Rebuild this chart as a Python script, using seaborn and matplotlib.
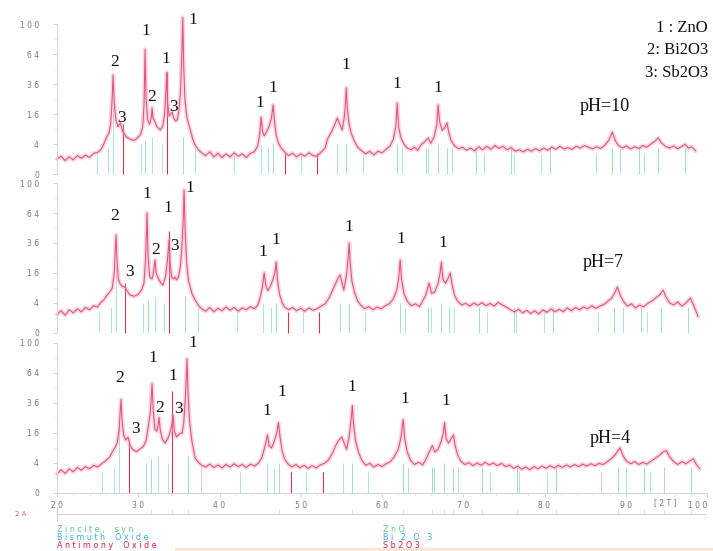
import numpy as np
import matplotlib
matplotlib.use('Agg')
import matplotlib.pyplot as plt
from matplotlib.ticker import FixedLocator, NullLocator
from matplotlib.patches import Rectangle
import seaborn as sns

# --- XRD data (2-theta, counts) ---
tth_ph10 = [20.0, 20.5, 21.0, 21.5, 22.0, 22.5, 23.0, 23.5, 24.0, 24.5, 25.0,
            25.4, 25.8, 26.1, 26.4, 26.6, 26.8, 26.9, 27.05, 27.25, 27.5, 27.8, 28.1, 28.5, 29.0, 29.5, 29.9,
            30.3, 30.55, 30.72, 30.84, 30.96, 31.15, 31.4, 31.6, 31.7, 31.82, 32.0, 32.3, 32.7, 33.0,
            33.25, 33.4, 33.51, 33.62, 33.8, 34.0, 34.16, 34.35, 34.6, 34.8, 35.0, 35.2, 35.35, 35.48, 35.6, 35.75, 36.0, 36.4, 36.7, 37.0,
            37.4, 37.8, 38.3, 38.8, 39.3, 39.8, 40.3, 40.8, 41.3, 41.8, 42.3, 42.8, 43.3, 43.8, 44.3,
            44.7, 44.95, 45.12, 45.3, 45.5, 45.8, 46.1, 46.4, 46.6, 46.8, 47.0, 47.3, 47.6, 48.0,
            48.5, 49.0, 49.5, 50.0, 50.5, 51.0, 51.5, 52.0, 52.5, 53.0, 53.3,
            53.8, 54.2, 54.5, 54.8, 55.1, 55.35, 55.5, 55.6, 55.72, 55.9, 56.2, 56.6, 57.0, 57.5,
            58.0, 58.5, 59.0, 59.5, 60.0, 60.5, 61.0, 61.4, 61.7,
            61.87, 62.05, 62.3, 62.7, 63.1, 63.6, 64.0, 64.4, 64.8, 65.2, 65.7, 66.0, 66.4, 66.75, 66.9, 67.1, 67.4, 67.7, 68.0, 68.2, 68.5, 68.9, 69.4,
            69.9, 70.4, 70.9, 71.4, 71.9, 72.4, 72.9, 73.4, 73.9, 74.4, 74.9, 75.4, 75.9, 76.4, 76.9, 77.4, 77.9, 78.4,
            78.9, 79.4, 79.9, 80.4, 80.9, 81.4, 81.9, 82.4, 82.9, 83.4, 83.9, 84.4, 84.9, 85.4, 85.9, 86.4, 86.9, 87.4,
            87.9, 88.35, 88.7, 89.1, 89.6, 90.1, 90.6, 91.1, 91.6, 92.1, 92.6, 93.1, 93.6, 94.0, 94.4, 94.9, 95.4, 95.9,
            96.4, 96.9, 97.3, 97.7, 98.1, 98.6]
int_ph10 = [1.0, 1.4, 0.8, 1.3, 0.9, 1.5, 1.1, 1.6, 1.2, 1.9, 2.1,
            2.6, 4.2, 6.0, 7.5, 11.0, 26.0, 43.6, 22.0, 13.0, 10.0, 11.6, 8.0, 6.2, 5.4, 5.0, 5.8,
            7.0, 10.0, 22.0, 69.0, 26.0, 13.0, 11.0, 14.0, 19.4, 14.0, 12.5, 10.0, 8.6, 10.0,
            16.0, 30.0, 46.0, 22.0, 15.0, 16.0, 17.1, 14.0, 12.5, 13.0, 18.0, 30.0, 60.0, 109.0, 50.0, 24.0, 14.0, 8.6, 5.5, 3.7,
            2.6, 2.0, 1.5, 2.2, 1.3, 1.9, 1.2, 1.8, 1.3, 2.0, 1.4, 1.8, 1.2, 1.9, 2.2,
            3.5, 7.0, 14.4, 8.0, 6.5, 8.0, 10.0, 14.0, 21.2, 11.0, 6.5, 4.0, 3.0, 2.2,
            1.5, 1.9, 1.3, 1.8, 1.4, 2.0, 1.5, 1.4, 2.1, 3.0, 5.5,
            8.0, 11.0, 13.9, 11.0, 8.6, 14.0, 22.0, 32.9, 20.0, 12.0, 7.5, 4.8, 3.2, 2.4,
            1.8, 2.3, 1.6, 2.3, 2.0, 2.7, 3.5, 5.5, 10.0,
            22.4, 10.0, 6.0, 4.0, 3.0, 2.6, 3.2, 2.5, 3.8, 4.5, 5.8, 4.2, 6.0, 11.0, 21.2, 12.0, 8.5, 9.5, 11.6, 8.0, 5.0, 3.6, 2.8,
            3.2, 2.5, 3.0, 2.4, 3.3, 2.6, 3.4, 2.7, 3.6, 2.9, 3.4, 2.6, 3.1, 2.3, 2.6, 2.2, 2.7, 2.3,
            2.9, 2.4, 3.0, 2.5, 3.2, 2.7, 3.4, 2.8, 3.1, 2.7, 3.4, 3.0, 3.6, 3.2, 2.8, 3.3, 2.9, 3.6,
            5.0, 7.8, 5.0, 3.6, 3.0, 3.5, 2.8, 3.3, 2.9, 3.6, 3.2, 4.0, 4.8, 5.8, 4.3, 3.4, 3.0, 3.5,
            2.8, 3.4, 3.9, 3.0, 3.3, 2.4]

tth_ph7 = [20.0, 20.5, 21.0, 21.5, 22.0, 22.5, 23.0, 23.5, 24.0, 24.5, 25.0,
           25.4, 25.8, 26.1, 26.5, 26.8, 27.05, 27.17, 27.27, 27.38, 27.55, 27.8, 28.1, 28.37, 28.6, 29.0, 29.5, 30.0, 30.4,
           30.7, 30.9, 31.08, 31.2, 31.4, 31.7, 31.9, 32.07, 32.2, 32.5, 32.8, 33.05,
           33.35, 33.6, 33.8, 33.92, 34.1, 34.3, 34.5, 34.7, 34.95, 35.2, 35.4, 35.55, 35.64, 35.78, 35.95, 36.2, 36.6, 37.0,
           37.4, 37.8, 38.3, 38.8, 39.3, 39.8, 40.3, 40.8, 41.3, 41.8, 42.3, 42.8, 43.3, 43.8, 44.3, 44.7,
           45.0, 45.25, 45.5, 45.7, 45.95, 46.3, 46.6, 46.85, 46.97, 47.15, 47.4, 47.7, 48.0,
           48.5, 49.0, 49.5, 50.0, 50.5, 51.0, 51.5, 52.0, 52.5, 53.0, 53.5,
           53.9, 54.3, 54.6, 54.85, 55.1, 55.3, 55.6, 55.82, 55.96, 56.08, 56.3, 56.6, 57.0, 57.4,
           57.9, 58.4, 58.9, 59.4, 59.9, 60.4, 60.9, 61.4, 61.8,
           62.05, 62.24, 62.4, 62.7, 63.1, 63.6, 64.1, 64.6, 65.0, 65.4, 65.8, 66.1, 66.5, 66.9, 67.15, 67.3, 67.5, 67.8, 68.1, 68.4, 68.6, 68.9, 69.3, 69.8,
           70.3, 70.8, 71.3, 71.8, 72.3, 72.8, 73.3, 73.8, 74.3, 74.8, 75.3, 75.8, 76.3, 76.8, 77.3, 77.8, 78.3, 78.8,
           79.3, 79.8, 80.3, 80.8, 81.3, 81.8, 82.3, 82.8, 83.3, 83.8, 84.3, 84.8, 85.3, 85.8, 86.3, 86.8, 87.3,
           87.8, 88.3, 88.7, 88.97, 89.3, 89.7, 90.2, 90.7, 91.2, 91.7, 92.2, 92.7, 93.2, 93.7, 94.2, 94.6, 95.0, 95.4,
           95.9, 96.4, 96.9, 97.4, 97.96, 98.4, 98.9]
int_ph7 = [1.5, 2.2, 1.4, 2.4, 1.8, 2.6, 2.0, 2.9, 2.4, 3.3, 3.0,
           4.2, 5.0, 6.2, 7.5, 9.0, 16.0, 30.0, 42.7, 24.0, 13.0, 10.5, 9.5, 9.4, 8.0, 6.4, 6.0, 6.6, 8.2,
           11.0, 24.0, 64.0, 27.0, 14.0, 13.0, 17.0, 23.7, 16.0, 13.0, 11.0, 10.2,
           14.0, 24.0, 38.4, 22.0, 14.0, 13.0, 13.9, 12.5, 14.0, 20.0, 36.0, 60.0, 91.0, 45.0, 22.0, 12.0, 7.0, 4.8,
           3.4, 2.6, 2.1, 2.9, 2.0, 2.7, 2.2, 3.0, 2.3, 2.9, 2.1, 2.8, 2.4, 3.1, 2.6, 3.4,
           5.5, 9.0, 16.0, 10.0, 8.0, 10.0, 13.0, 17.0, 22.4, 12.0, 6.5, 4.2, 3.0,
           2.4, 2.9, 2.2, 2.7, 2.1, 2.8, 2.3, 2.6, 3.2, 3.8, 5.5,
           8.0, 11.0, 13.5, 15.0, 11.0, 8.2, 14.0, 24.0, 36.0, 22.0, 12.0, 7.5, 4.6, 3.4,
           2.6, 3.1, 2.4, 3.0, 2.6, 3.3, 3.8, 5.2, 8.0,
           13.0, 23.7, 13.0, 7.0, 4.5, 3.3, 3.8, 3.1, 4.5, 6.5, 11.1, 7.0, 7.5, 11.0, 16.0, 22.4, 13.0, 11.0, 13.0, 16.0, 11.0, 6.5, 4.5, 3.5,
           3.9, 3.2, 4.0, 3.4, 4.1, 3.3, 3.9, 3.2, 4.2, 3.5, 3.0, 2.4, 2.0, 2.5, 1.8, 2.3, 1.7, 2.2,
           1.6, 2.4, 1.9, 2.6, 2.0, 2.5, 2.0, 2.8, 2.2, 2.9, 2.4, 3.0, 2.6, 3.3, 2.7, 3.2, 3.6,
           4.5, 5.5, 7.5, 9.4, 6.5, 4.5, 3.2, 3.8, 2.8, 3.5, 3.0, 3.9, 4.5, 5.5, 6.5, 8.2, 5.5, 4.0,
           3.5, 4.3, 3.2, 4.0, 5.4, 3.2, 1.2]

tth_ph4 = [20.0, 20.5, 21.0, 21.5, 22.0, 22.5, 23.0, 23.5, 24.0, 24.5, 25.0,
           25.5, 26.0, 26.5, 26.8, 27.1, 27.4, 27.65, 27.78, 27.88, 28.0, 28.2, 28.45, 28.74, 29.0, 29.4, 29.8, 30.2, 30.6,
           30.95, 31.25, 31.5, 31.7, 31.85, 32.05, 32.3, 32.45, 32.56, 32.7, 32.95, 33.3,
           33.6, 33.9, 34.15, 34.29, 34.45, 34.7, 34.95, 35.15, 35.4, 35.6, 35.8, 35.92, 36.0, 36.12, 36.3, 36.6, 37.0,
           37.4, 37.8, 38.3, 38.8, 39.3, 39.8, 40.3, 40.8, 41.3, 41.8, 42.3, 42.8, 43.3, 43.8, 44.3, 44.8,
           45.2, 45.5, 45.75, 45.9, 46.1, 46.4, 46.75, 47.05, 47.25, 47.45, 47.7, 48.0, 48.4,
           48.9, 49.4, 49.9, 50.4, 50.9, 51.4, 51.9, 52.4, 52.9, 53.4,
           53.9, 54.3, 54.7, 55.05, 55.35, 55.65, 55.95, 56.2, 56.35, 56.5, 56.75, 57.1, 57.5,
           58.0, 58.5, 59.0, 59.5, 60.0, 60.5, 61.0, 61.5, 62.0, 62.35,
           62.6, 62.8, 63.1, 63.5, 64.0, 64.5, 65.0, 65.4, 65.8, 66.2, 66.5, 66.9, 67.3, 67.55, 67.7, 67.9, 68.2, 68.5, 68.8, 69.0, 69.3, 69.7,
           70.2, 70.7, 71.2, 71.7, 72.2, 72.7, 73.2, 73.7, 74.2, 74.7, 75.2, 75.7, 76.2, 76.7, 77.2, 77.7, 78.2, 78.7,
           79.2, 79.7, 80.2, 80.7, 81.2, 81.7, 82.2, 82.7, 83.2, 83.7, 84.2, 84.7, 85.2, 85.7, 86.2, 86.7, 87.2, 87.7,
           88.2, 88.7, 89.0, 89.3, 89.7, 90.1, 90.6, 91.1, 91.6, 92.1, 92.6, 93.1, 93.6, 94.1, 94.6, 95.0, 95.4, 95.9,
           96.4, 96.9, 97.4, 97.9, 98.3, 98.7, 99.1]
int_ph4 = [1.6, 2.4, 1.7, 2.6, 2.0, 2.9, 2.3, 3.1, 2.6, 3.4, 3.0,
           3.8, 4.6, 5.8, 7.5, 8.9, 11.0, 18.0, 30.0, 38.8, 24.0, 15.0, 12.5, 13.8, 10.0, 8.2, 7.6, 8.6, 9.5,
           12.0, 20.0, 30.0, 53.0, 30.0, 18.0, 17.0, 21.0, 25.3, 18.0, 13.0, 11.0,
           13.0, 16.0, 21.0, 26.7, 17.0, 14.0, 15.0, 15.8, 16.0, 22.0, 40.0, 62.0, 80.0, 45.0, 24.0, 12.0, 5.4,
           4.2, 3.4, 3.0, 3.7, 2.9, 3.5, 2.8, 3.6, 3.0, 3.8, 3.1, 3.6, 2.9, 3.7, 3.2, 4.0,
           5.5, 8.5, 12.0, 15.0, 10.0, 9.0, 12.0, 16.0, 22.0, 14.0, 8.0, 5.2, 3.8,
           3.0, 3.6, 2.8, 3.4, 2.7, 3.3, 2.8, 3.5, 3.9, 4.8,
           7.0, 10.0, 12.5, 14.0, 11.0, 8.5, 14.0, 24.0, 34.0, 21.0, 12.0, 7.5, 4.8,
           3.4, 3.9, 3.0, 3.6, 3.1, 3.8, 4.3, 5.8, 8.5, 14.0,
           24.0, 13.0, 7.5, 4.8, 3.6, 4.2, 3.5, 5.0, 7.5, 10.0, 7.5, 8.5, 12.0, 16.0, 22.0, 13.0, 11.0, 13.0, 15.0, 10.0, 6.5, 4.5,
           3.6, 4.1, 3.3, 4.0, 3.4, 4.2, 3.5, 4.0, 3.3, 3.9, 3.1, 3.5, 2.7, 3.2, 2.5, 3.0, 2.4, 3.1,
           2.6, 3.2, 2.7, 3.3, 2.8, 3.4, 2.9, 3.5, 3.0, 3.6, 3.1, 3.7, 3.2, 3.8, 3.3, 3.9, 3.6, 4.3,
           5.2, 6.5, 7.8, 9.0, 6.0, 4.5, 3.8, 4.4, 3.6, 4.2, 3.7, 4.5, 5.3, 6.2, 7.5, 8.0, 5.8, 4.4,
           3.6, 4.4, 3.8, 4.6, 5.2, 3.6, 2.6]

# peak labels (phase number, 2-theta, level)
peak_names = ['2', '3', '1', '2', '1', '3', '1', '1', '1', '1', '1', '1']
lab_t_ph10 = [27.1, 27.9, 30.96, 31.7, 33.4, 34.3, 36.75, 45.0, 46.6, 55.6, 61.87, 66.92]
lab_i_ph10 = [55.8, 13.9, 90.9, 26.3, 58.8, 20.0, 105.0, 22.4, 32.9, 52.8, 36.0, 32.9]
lab_t_ph7 = [27.14, 28.87, 31.08, 32.2, 33.67, 34.5, 36.4, 45.37, 46.97, 55.96, 62.36, 67.5]
lab_i_ph7 = [60.8, 16.5, 85.9, 30.6, 69.4, 33.6, 93.4, 29.2, 38.4, 49.9, 39.3, 36.0]
lab_t_ph4 = [27.76, 29.6, 31.8, 32.68, 34.29, 35.0, 36.75, 45.86, 47.7, 56.3, 62.86, 67.9]
lab_i_ph4 = [59.0, 18.0, 81.0, 32.4, 61.0, 31.7, 100.0, 30.2, 45.6, 50.2, 39.6, 37.9]

# reference stick patterns
zno_pos = [30.84, 33.5, 35.48, 46.6, 55.6, 61.87, 65.4, 66.9, 68.0, 71.6, 75.9, 80.7, 88.3, 91.6, 94.0, 97.3]
zno_h = [5, 5, 6, 4, 4, 4, 3, 4, 3, 3, 3, 3, 3, 3, 3, 3]
bi_pos = [24.9, 26.3, 26.9, 30.3, 31.7, 32.9, 37.0, 41.8, 45.1, 46.0, 50.0, 54.5, 57.6, 62.5, 65.7,
          68.6, 72.6, 76.2, 79.6, 86.3, 89.3, 92.3]
bi_h = [2, 3, 20, 4, 6, 4, 3, 2, 4, 3, 2, 4, 2, 3, 3, 3, 2, 2, 2, 2, 3, 2]
sb_pos = [28.1, 33.5, 48.1, 52.0]
sb_h = [11, 46, 2, 2]
stick_shift = [0.0, 0.3, 0.7]

ph_names = ['pH=10', 'pH=7', 'pH=4']
ytick_vals = [0, 4, 16, 36, 64, 100]
ytick_txt = ['0', '4', '1 6', '3 6', '6 4', '1 0 0']
xtick_vals = [20, 30, 40, 50, 60, 70, 80, 90, 100]
xtick_txt = ['2 0', '3 0', '4 0', '5 0', '6 0', '7 0', '8 0', '9 0', '1 0 0']

sns.set_style('white')
plt.rcParams['font.family'] = ['DejaVu Sans']

line_c = '#e4557c'
halo_c = '#f5a9bd'
zno_c = '#74d69a'
bi_c = '#86d4ea'
sb_c = '#d8334f'
serif = ['Liberation Serif', 'DejaVu Serif']


def fwd(v):
    return np.sqrt(np.clip(v, 0, None))


def inv(v):
    return np.square(v)


fig = plt.figure(figsize=(7.13, 5.51), dpi=100)
W, H = 713, 551
left, width = 57 / W, 650 / W
bottoms = [(H - 174) / H, (H - 333) / H, (H - 493) / H]

datasets = [(tth_ph10, int_ph10, lab_t_ph10, lab_i_ph10),
            (tth_ph7, int_ph7, lab_t_ph7, lab_i_ph7),
            (tth_ph4, int_ph4, lab_t_ph4, lab_i_ph4)]
ph_xy = [(0.843, 0.453), (0.84, 0.467), (0.851, 0.364)]

for k, (tth, inten, lt, li) in enumerate(datasets):
    ax = fig.add_axes([left, bottoms[k], width, 150 / H])
    ax.set_facecolor('none')
    ax.set_yscale('function', functions=(fwd, inv))
    ax.set_xlim(20, 100)
    ax.set_ylim(0, 100)

    sh = stick_shift[k]
    ax.vlines(np.array(bi_pos) + sh, 0, bi_h, color=bi_c, lw=0.6, alpha=0.8)
    ax.vlines(np.array(zno_pos) + sh, 0, zno_h, color=zno_c, lw=0.6, alpha=0.8)
    ax.vlines(np.array(sb_pos) + sh, 0, sb_h, color=sb_c, lw=0.8, clip_on=False)

    sns.lineplot(x=tth, y=inten, ax=ax, color=halo_c, lw=3.2, alpha=0.45,
                 estimator=None, sort=False, clip_on=False)
    sns.lineplot(x=tth, y=inten, ax=ax, color=line_c, lw=0.8,
                 estimator=None, sort=False, clip_on=False)

    for name, t, i in zip(peak_names, lt, li):
        ax.text(t, i, name, ha='center', va='center', fontsize=12.5,
                family=serif, color='#111111', clip_on=False)
    ax.text(ph_xy[k][0], ph_xy[k][1], ph_names[k], transform=ax.transAxes,
            ha='center', va='center', fontsize=13, family=serif, color='#111111')

    ax.set_yticks(ytick_vals)
    ax.set_yticklabels(ytick_txt)
    ax.yaxis.set_minor_locator(FixedLocator([1, 9, 25, 49, 81]))
    ax.tick_params(axis='y', which='major', length=3, width=0.6, color='#cccccc',
                   labelsize=5.5, labelcolor='#7a7a7a', pad=10, left=True)
    ax.tick_params(axis='y', which='minor', length=2, width=0.5, color='#dddddd', left=True)
    for s in ['top', 'right']:
        ax.spines[s].set_visible(False)
    ax.spines['left'].set_color('#d4d4d4')
    ax.spines['left'].set_linewidth(0.7)
    ax.set_xlabel('')
    ax.set_ylabel('')

    if k < 2:
        ax.spines['bottom'].set_visible(False)
        ax.set_xticks([])
        ax.xaxis.set_minor_locator(NullLocator())
    else:
        ax.spines['bottom'].set_color('#d4d4d4')
        ax.spines['bottom'].set_linewidth(0.7)
        ax.set_xticks(xtick_vals)
        ax.set_xticklabels(xtick_txt)
        ax.get_xticklabels()[-1].set_horizontalalignment('right')
        ax.xaxis.set_minor_locator(FixedLocator(np.arange(22, 100, 2)))
        ax.tick_params(axis='x', which='major', length=3, width=0.6, color='#cccccc',
                       labelsize=5.5, labelcolor='#7a7a7a', pad=3, bottom=True)
        ax.tick_params(axis='x', which='minor', length=2, width=0.5, color='#dddddd', bottom=True)
        ax.text(94.9, -0.065, '[ 2 T ]', transform=ax.get_xaxis_transform(),
                ha='center', va='center', fontsize=5.5, color='#7a7a7a')

# strip below the patterns
ax_s = fig.add_axes([left, (H - 523) / H, width, 16 / H])
ax_s.set_xlim(20, 100)
ax_s.set_ylim(0, 1)
ax_s.axis('off')
ax_s.axhline(0.55, color='#d4d4d4', lw=0.8)
ax_s.vlines([20.0], 0.1, 1.0, color='#cfcfcf', lw=0.8)
ax_s.vlines(np.array(zno_pos) + 0.7, 0.55, 0.9, color='#dddddd', lw=0.6)

fig.text(15 / W, 1 - 514 / H, '2 A', color='#e0607a', fontsize=5, va='center')
leg_y = [1 - 529 / H, 1 - 538 / H, 1 - 546 / H]
leg_c = ['#5cc98a', '#35b0dc', '#e0204a']
leg_l = ['Z i n c i t e ,    s y n', 'B i s m u t h    O x i d e', 'A n t i m o n y    O x i d e']
leg_r = ['Z n O', 'B i   2   O   3', 'S b 2 O 3']
for yy, cc, tl, tr in zip(leg_y, leg_c, leg_l, leg_r):
    fig.text(57 / W, yy, tl, color=cc, fontsize=5.8, va='center')
    fig.text(383 / W, yy, tr, color=cc, fontsize=5.8, va='center')

fig.patches.append(Rectangle((175 / W, 0), 1 - 175 / W, 3 / H, transform=fig.transFigure,
                             color='#fce6da', zorder=0))

# phase key, top right
for yy, txt in zip([1 - 28 / H, 1 - 50 / H, 1 - 73 / H], ['1 : ZnO', '2: Bi2O3', '3: Sb2O3']):
    fig.text(708 / W, yy, txt, ha='right', va='center', fontsize=12,
             family=serif, color='#111111')

fig.savefig('out.png', dpi=100)
